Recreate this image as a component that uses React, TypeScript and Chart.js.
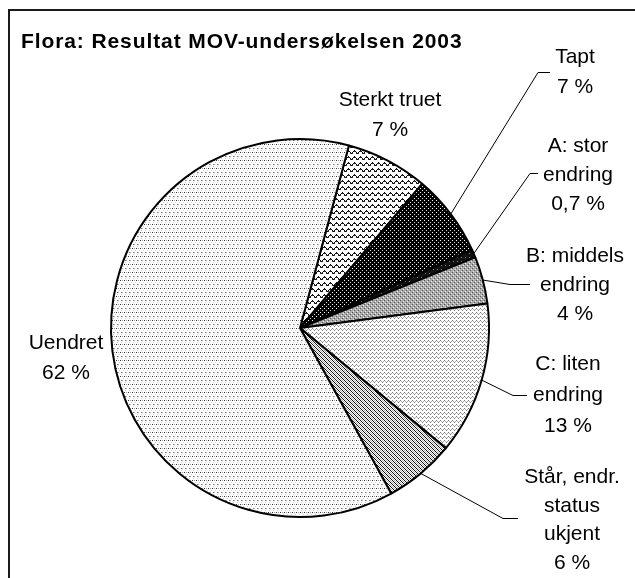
import React, { useEffect, useRef } from "react";
import { Chart, registerables } from "chart.js";

Chart.register(...registerables);

const titleText = "Flora: Resultat MOV-undersøkelsen 2003";
const categories = [
  "Sterkt truet",
  "Tapt",
  "A: stor endring",
  "B: middels endring",
  "C: liten endring",
  "Står, endr. status ukjent",
  "Uendret",
];
const labelLines = [
  ["Sterkt truet"],
  ["Tapt"],
  ["A: stor", "endring"],
  ["B: middels", "endring"],
  ["C: liten", "endring"],
  ["Står, endr.", "status", "ukjent"],
  ["Uendret"],
];
const values = [7, 7, 0.7, 4, 13, 6, 62];

// label placement (centre x, first baseline, line height, leader elbow & end)
const labelLayout = [
  { cx: 390, y: 106, lh: 29.5, leader: null },
  { cx: 575, y: 63, lh: 30, leader: [[538, 72], [550, 72]] },
  { cx: 578, y: 152, lh: 29, leader: [[530, 173], [538, 173]] },
  { cx: 575, y: 262, lh: 29, leader: [[510, 284], [530, 284]] },
  { cx: 568, y: 370, lh: 31, leader: [[513, 395], [527, 395]] },
  { cx: 572, y: 483, lh: 28.5, leader: [[503, 518], [518, 518]] },
  { cx: 66, y: 349, lh: 30, leader: null },
];

function makeTile(w: number, h: number, bg: string, dots: [number, number, string][]) {
  const c = document.createElement("canvas");
  c.width = w;
  c.height = h;
  const g = c.getContext("2d")!;
  g.fillStyle = bg;
  g.fillRect(0, 0, w, h);
  for (const [x, y, col] of dots) {
    g.fillStyle = col;
    g.fillRect(x, y, 1, 1);
  }
  return g.createPattern(c, "repeat")!;
}

function buildPatterns() {
  const zz: [number, number, string][] = [];
  const z = [0, 1, 2, 3, 2, 1];
  for (let x = 0; x < 6; x++) {
    zz.push([x, z[x], "#000"]);
    if (x % 2 === 0) zz.push([x, z[x] + 1, "#333"]);
  }
  const sterkt = makeTile(6, 6, "#fff", zz);
  const tapt = makeTile(4, 4, "#000", [
    [0, 0, "#fff"],
    [2, 2, "#ddd"],
  ]);
  const aStor = makeTile(4, 4, "#111", [[1, 1, "#888"]]);
  const bMid = makeTile(4, 4, "#aaaaaa", [
    [0, 0, "#555"],
    [2, 2, "#555"],
    [1, 3, "#eee"],
    [3, 1, "#eee"],
  ]);
  const cLit = makeTile(4, 4, "#fff", [
    [0, 0, "#777"],
    [1, 1, "#aaa"],
    [2, 2, "#777"],
    [3, 1, "#aaa"],
  ]);
  const star: [number, number, string][] = [];
  for (let i = 0; i < 4; i++) {
    star.push([i, i, "#111"]);
    star.push([(i + 2) % 4, i, "#aaa"]);
  }
  const stars = makeTile(4, 4, "#fff", star);
  const uendret = makeTile(4, 8, "#fff", [
    [0, 0, "#333"],
    [2, 0, "#999"],
    [1, 4, "#777"],
    [2, 4, "#aaa"],
    [3, 2, "#ccc"],
    [1, 6, "#ccc"],
  ]);
  return [sterkt, tapt, aStor, bMid, cLit, stars, uendret];
}

const fmt = (v: number) => `${String(v).replace(".", ",")} %`;

const overlay = {
  id: "overlay",
  afterDraw(chart: any) {
    const ctx = chart.ctx as CanvasRenderingContext2D;
    ctx.save();
    ctx.strokeStyle = "#1a1a1a";
    ctx.lineWidth = 2;
    ctx.beginPath();
    ctx.moveTo(9, 700);
    ctx.lineTo(9, 10);
    ctx.lineTo(700, 10);
    ctx.stroke();

    ctx.fillStyle = "#000";
    ctx.font = 'bold 21px "Liberation Sans", Arial, sans-serif';
    (ctx as any).letterSpacing = "0.9px";
    ctx.textAlign = "left";
    ctx.textBaseline = "alphabetic";
    ctx.fillText(titleText, 21, 48);
    (ctx as any).letterSpacing = "0px";

    const meta = chart.getDatasetMeta(0);
    ctx.font = '21px "Liberation Sans", Arial, sans-serif';
    ctx.textAlign = "center";
    meta.data.forEach((arc: any, i: number) => {
      const L = labelLayout[i];
      const lines = [...labelLines[i], fmt(values[i])];
      lines.forEach((t, k) => ctx.fillText(t, L.cx, L.y + k * L.lh));
      if (L.leader) {
        const p = arc.getProps(["x", "y", "startAngle", "endAngle", "outerRadius"], true);
        const mid = (p.startAngle + p.endAngle) / 2;
        const sx = p.x + Math.cos(mid) * p.outerRadius;
        const sy = p.y + Math.sin(mid) * p.outerRadius;
        ctx.strokeStyle = "#000";
        ctx.lineWidth = 1;
        ctx.beginPath();
        ctx.moveTo(sx, sy);
        ctx.lineTo(L.leader[0][0], L.leader[0][1] + 0.5);
        ctx.lineTo(L.leader[1][0], L.leader[1][1] + 0.5);
        ctx.stroke();
      }
    });
    ctx.restore();
  },
};

export default function App() {
  const ref = useRef<HTMLCanvasElement>(null);
  useEffect(() => {
    const chart = new Chart(ref.current!, {
      type: "pie",
      data: {
        labels: categories,
        datasets: [
          {
            data: values,
            backgroundColor: buildPatterns() as any,
            borderColor: "#000",
            borderWidth: 2,
            hoverOffset: 0,
            offset: 0,
          },
        ],
      },
      options: {
        animation: false,
        responsive: false,
        events: [],
        rotation: 15,
        layout: { padding: { left: 110, right: 145, top: 138, bottom: 60 } },
        plugins: { legend: { display: false }, tooltip: { enabled: false }, title: { display: false } },
      },
      plugins: [overlay],
    });
    return () => chart.destroy();
  }, []);
  return (
    <div style={{ position: "absolute", left: 0, top: 0, width: 635, height: 578, background: "#fff" }}>
      <canvas ref={ref} width={635} height={578} style={{ display: "block" }} />
    </div>
  );
}
